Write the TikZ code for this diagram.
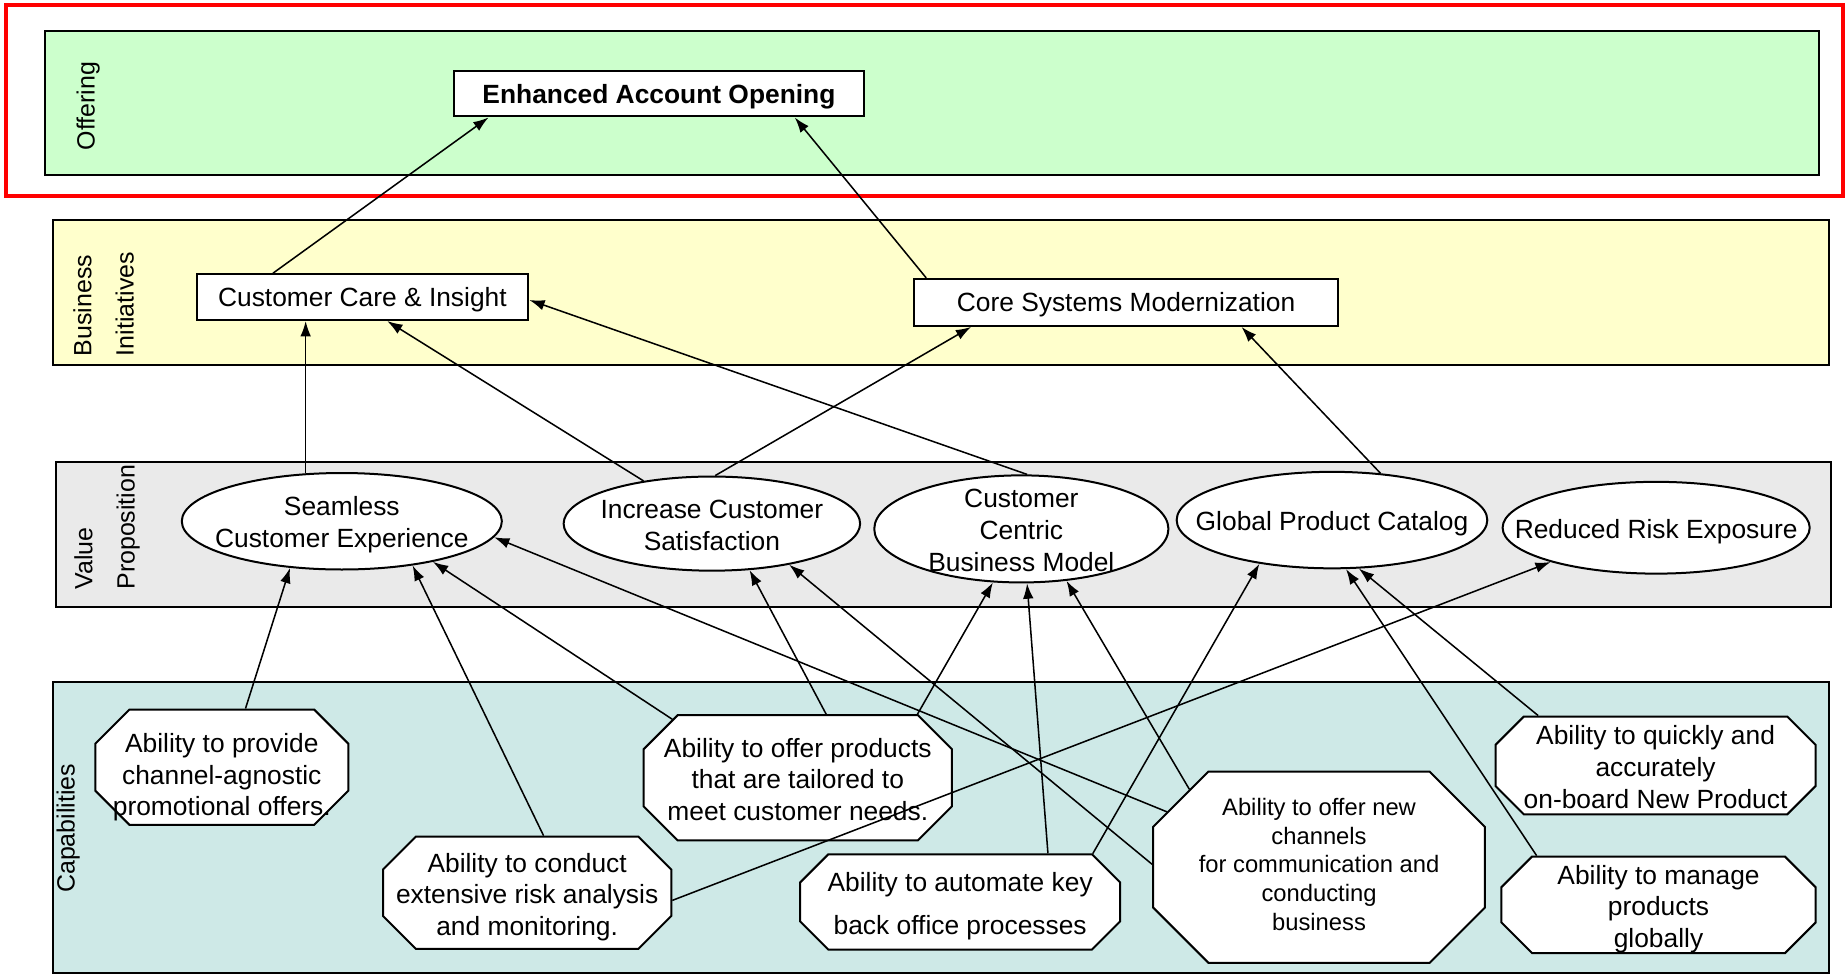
\documentclass[tikz,border=0pt]{standalone}
\usepackage{fontspec}
\setmainfont{Liberation Sans}
\usepackage{tikz}
\usetikzlibrary{arrows.meta}
\usetikzlibrary{shapes.geometric}
\usetikzlibrary{shapes.misc}
\definecolor{offergreen}{RGB}{204,255,204}
\definecolor{inityellow}{RGB}{255,255,204}
\definecolor{propgray}{RGB}{234,234,234}
\definecolor{capteal}{RGB}{206,233,231}
\newcommand{\boxfont}{\fontsize{11.2}{13.5}\selectfont}
\newcommand{\smallboxfont}{\fontsize{10.1}{12.2}\selectfont}
\newcommand{\lanefont}{\fontsize{10.6}{18}\selectfont}
% text that does not make its shape grow
\newcommand{\fitin}[2][4.5pt]{\makebox[0pt]{\raisebox{-#1}[0pt][0pt]{\begin{tabular}{@{}c@{}}#2\end{tabular}}}}
\newcommand{\capfit}[2][2pt]{\makebox[0pt]{\raisebox{-#1}[\height][\depth]{\begin{tabular}{@{}c@{}}#2\end{tabular}}}}

\begin{document}
\begin{tikzpicture}[x=0.5pt, y=-0.5pt,
    lane/.style={draw, line width=0.85pt},
    lanelabel/.style={rotate=90, align=left, inner sep=0pt, font=\lanefont},
    initiative/.style={draw, fill=white, rectangle, inner sep=0pt, text depth=0pt, line width=0.85pt, font=\boxfont},
    valueprop/.style={draw, fill=white, ellipse, inner sep=0pt, line width=0.85pt, font=\boxfont},
    capability/.style={draw, fill=white, chamfered rectangle, inner sep=0pt, line width=0.85pt, font=\boxfont},
    link/.style={-{Latex[length=6.5pt, width=4.5pt]}, line width=0.65pt},
  ]
  \useasboundingbox (0,0) rectangle (1568,828);

  % lanes
  \draw [lane, fill=offergreen] (38,26) rectangle (1546,149);
  \draw [lane, fill=inityellow] (45,187) rectangle (1554,310);
  \draw [lane, fill=propgray] (48,393) rectangle (1556,516);
  \draw [lane, fill=capteal] (45,580) rectangle (1554,827);
  \draw [red, line width=1.7pt] (5,4) rectangle (1566,166.5);

  \node [lanelabel] (offerlbl) at (75,90) {Offering};
  \node [lanelabel, anchor=west] (initlbl) at (88,303) {Business\\Initiatives};
  \node [lanelabel, anchor=west] (proplbl) at (91,501.5) {Value\\Proposition};
  \node [lanelabel] (caplbl) at (58,704) {Capabilities};

  % offering and initiatives
  \node [initiative, minimum width=174pt, minimum height=19.5pt, font=\boxfont\bfseries] (eao) at (560,79.5) {Enhanced Account Opening};
  \node [initiative, minimum width=141pt, minimum height=19.5pt] (cci) at (308,252.5) {Customer Care \& Insight};
  \node [initiative, minimum width=180pt, minimum height=20pt] (csm) at (957,257) {Core Systems Modernization};

  % value proposition
  \node [valueprop, minimum width=136pt, minimum height=41pt] (sce) at (290.5,443) {\fitin{Seamless\\Customer Experience}};
  \node [valueprop, minimum width=126pt, minimum height=40pt] (ics) at (605,445) {\fitin{Increase Customer\\Satisfaction}};
  \node [valueprop, minimum width=125pt, minimum height=45.5pt] (ccbm) at (868,449.5) {\fitin{Customer\\Centric\\Business Model}};
  \node [valueprop, minimum width=132pt, minimum height=41pt] (gpc) at (1132,442) {\fitin{Global Product Catalog}};
  \node [valueprop, minimum width=130.5pt, minimum height=39pt] (rre) at (1407.5,448.5) {\fitin{Reduced Risk Exposure}};

  % capabilities
  \node [capability, minimum width=107.5pt, minimum height=49pt, chamfered rectangle xsep=14.5pt, chamfered rectangle ysep=14.5pt] (promo) at (188.5,652) {\capfit[4.5pt]{Ability to provide\\channel-agnostic\\promotional offers.}};
  \node [capability, minimum width=122.5pt, minimum height=47.75pt, chamfered rectangle xsep=14pt, chamfered rectangle ysep=14pt] (risk) at (448,758.75) {\capfit{Ability to conduct\\extensive risk analysis\\and monitoring.}};
  \node [capability, minimum width=131pt, minimum height=53.25pt, chamfered rectangle xsep=14.5pt, chamfered rectangle ysep=14pt] (tailor) at (678,661) {\capfit{Ability to offer products\\that are tailored to\\meet customer needs.}};
  \node [capability, minimum width=136pt, minimum height=40.5pt, chamfered rectangle xsep=12pt, chamfered rectangle ysep=12pt] (automate) at (816,766.5) {\capfit{Ability to automate key\\[5pt]back office processes}};
  \node [capability, minimum width=141pt, minimum height=81.25pt, chamfered rectangle xsep=23.5pt, chamfered rectangle ysep=24pt, font=\smallboxfont] (channels) at (1121,737) {\capfit[0pt]{Ability to offer new\\channels\\for communication and\\conducting\\business}};
  \node [capability, minimum width=136pt, minimum height=41.5pt, chamfered rectangle xsep=12pt, chamfered rectangle ysep=11.5pt] (quick) at (1407,650.5) {\capfit{Ability to quickly and\\accurately\\on-board New Product}};
  \node [capability, minimum width=133.5pt, minimum height=41pt, chamfered rectangle xsep=13pt, chamfered rectangle ysep=12.5pt] (manage) at (1409.5,769) {\capfit{Ability to manage\\products\\globally}};

  % to the offering
  \draw [link] (cci.165) -- (eao.188.3);
  \draw [link] (csm.173) -- (eao.-10);
  % to the initiatives
  \draw [link] (sce.127) -- (sce.127 |- cci.south);
  \draw [link] (ics.148) -- (cci.-44);
  \draw [link] (ccbm.84) -- (cci.-1);
  \draw [link] (ics.86) -- (csm.189);
  \draw [link] (gpc.44) -- (csm.-12);
  % to the value propositions
  \draw [link] (promo.68) -- (sce.222);
  \draw [link] (risk.74) -- (sce.-32);
  \draw [link] (tailor.155) -- (sce.-24);
  \draw [link] (tailor.66) -- (ics.-51);
  \draw [link] (tailor.28) -- (ccbm.242);
  \draw [link] (risk.-3) -- (rre.198);
  \draw [link] (automate.29) -- (ccbm.-84);
  \draw [link] (automate.20) -- (gpc.211);
  \draw [link] (channels.160) -- (sce.-6);
  \draw [link] (channels.179) -- (ics.-28);
  \draw [link] (channels.149) -- (ccbm.-49);
  \draw [link] (quick.157) -- (gpc.-61);
  \draw [link] (manage.158) -- (gpc.-74);
\end{tikzpicture}
\end{document}
